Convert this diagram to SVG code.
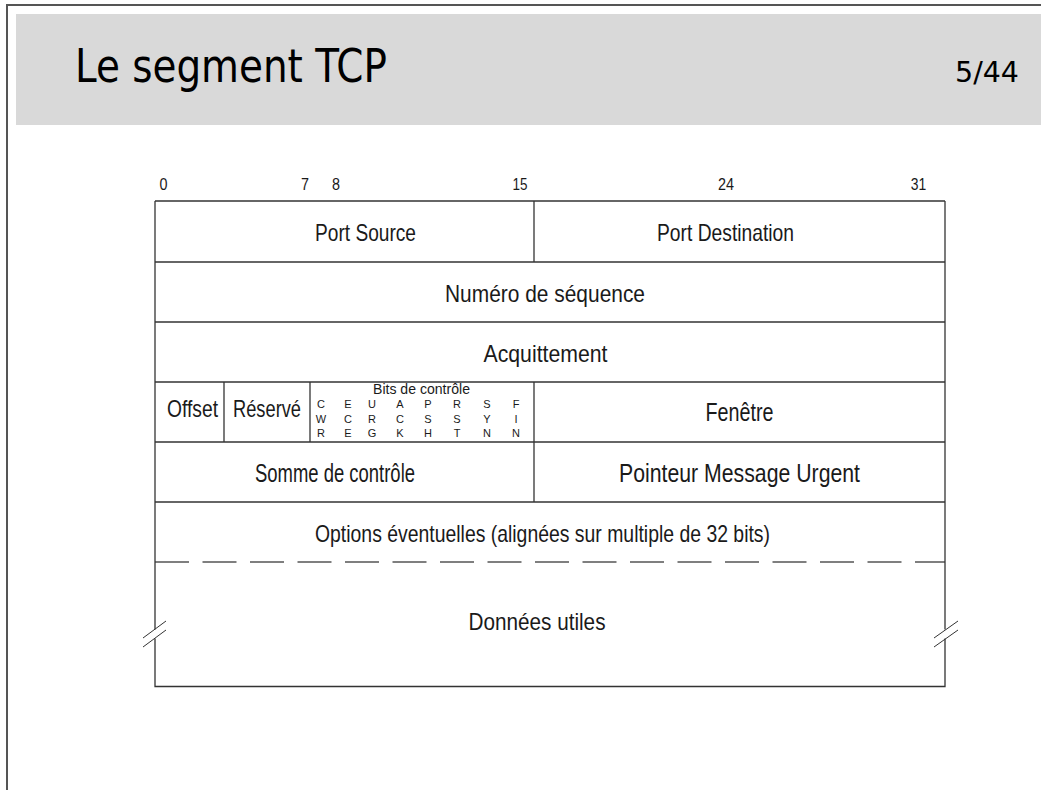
<svg xmlns="http://www.w3.org/2000/svg" width="1041" height="790" viewBox="0 0 1041 790">
<style>
.t{font-family:"Liberation Sans",Arial,sans-serif;fill:#1a1a1a;text-anchor:middle}
.f{font-size:23.4px}
.n{font-size:17px}
.b{font-size:11px}
.ln{stroke:#333;stroke-width:1.3;fill:none}
.brk{stroke:#333;stroke-width:1;fill:none}
</style>
<rect x="0" y="0" width="1041" height="790" fill="#fff"/>
<g id="frame">
<polyline points="7,790 7,5 1041,5" fill="none" stroke="#555" stroke-width="2"/>
<rect x="16" y="14" width="1025" height="111" fill="#d9d9d9"/>
<text x="75" y="82" font-family="DejaVu Sans Condensed,Liberation Sans,sans-serif" font-size="47" textLength="312" lengthAdjust="spacingAndGlyphs" fill="#000">Le segment TCP</text>
<text x="955" y="82" font-family="DejaVu Sans Condensed,Liberation Sans,sans-serif" font-size="29" textLength="64" lengthAdjust="spacingAndGlyphs" fill="#000">5/44</text>
</g>
<g id="bit-numbers" class="t n">
<text x="163.5" y="190" textLength="8" lengthAdjust="spacingAndGlyphs">0</text>
<text x="305" y="190" textLength="8" lengthAdjust="spacingAndGlyphs">7</text>
<text x="336" y="190" textLength="8" lengthAdjust="spacingAndGlyphs">8</text>
<text x="520" y="190" textLength="15" lengthAdjust="spacingAndGlyphs">15</text>
<text x="726" y="190" textLength="16" lengthAdjust="spacingAndGlyphs">24</text>
<text x="918.5" y="190" textLength="15.5" lengthAdjust="spacingAndGlyphs">31</text>
</g>
<g id="connectors" class="ln">
<line x1="155" y1="201" x2="945" y2="201"/>
<line x1="155" y1="262" x2="945" y2="262"/>
<line x1="155" y1="322" x2="945" y2="322"/>
<line x1="155" y1="382" x2="945" y2="382"/>
<line x1="155" y1="442" x2="945" y2="442"/>
<line x1="155" y1="502" x2="945" y2="502"/>
<line x1="534" y1="201" x2="534" y2="262"/>
<line x1="534" y1="382" x2="534" y2="502"/>
<line x1="224" y1="382" x2="224" y2="442"/>
<line x1="310" y1="382" x2="310" y2="442"/>
<line x1="155" y1="562" x2="945" y2="562" stroke-dasharray="34 13.5" stroke="#555"/>
<line x1="155" y1="201" x2="155" y2="629.5"/>
<line x1="945" y1="201" x2="945" y2="629.5"/>
<polyline points="155,638.5 155,686.5 945,686.5 945,638.5"/>
<line class="brk" x1="143" y1="638" x2="166" y2="621"/>
<line class="brk" x1="143" y1="647" x2="166" y2="630"/>
<line class="brk" x1="934" y1="638" x2="958" y2="621"/>
<line class="brk" x1="934" y1="647" x2="958" y2="630"/>
</g>
<g id="port-source" class="t f"><text x="365.5" y="241" textLength="101" lengthAdjust="spacingAndGlyphs">Port Source</text></g>
<g id="port-destination" class="t f"><text x="725.5" y="241" textLength="137" lengthAdjust="spacingAndGlyphs">Port Destination</text></g>
<g id="numero-sequence" class="t"><text x="545" y="301.5" font-size="24.5" textLength="200" lengthAdjust="spacingAndGlyphs">Numéro de séquence</text></g>
<g id="acquittement" class="t"><text x="545.5" y="361.5" font-size="24" textLength="124" lengthAdjust="spacingAndGlyphs">Acquittement</text></g>
<g id="offset" class="t f"><text x="192.5" y="417" textLength="51" lengthAdjust="spacingAndGlyphs">Offset</text></g>
<g id="reserve" class="t f"><text x="267" y="417" textLength="68" lengthAdjust="spacingAndGlyphs">Réservé</text></g>
<g id="bits-controle" class="t">
<text x="421.5" y="394" font-size="14" textLength="97" lengthAdjust="spacingAndGlyphs">Bits de contrôle</text>
<g class="b">
<text x="321" y="407.5">C</text><text x="321" y="422.5">W</text><text x="321" y="437">R</text>
<text x="348" y="407.5">E</text><text x="348" y="422.5">C</text><text x="348" y="437">E</text>
<text x="372" y="407.5">U</text><text x="372" y="422.5">R</text><text x="372" y="437">G</text>
<text x="400" y="407.5">A</text><text x="400" y="422.5">C</text><text x="400" y="437">K</text>
<text x="428" y="407.5">P</text><text x="428" y="422.5">S</text><text x="428" y="437">H</text>
<text x="457" y="407.5">R</text><text x="457" y="422.5">S</text><text x="457" y="437">T</text>
<text x="487" y="407.5">S</text><text x="487" y="422.5">Y</text><text x="487" y="437">N</text>
<text x="516" y="407.5">F</text><text x="516" y="422.5">I</text><text x="516" y="437">N</text>
</g>
</g>
<g id="fenetre" class="t"><text x="739.5" y="421" font-size="25" textLength="68" lengthAdjust="spacingAndGlyphs">Fenêtre</text></g>
<g id="somme-controle" class="t"><text x="335" y="481.5" font-size="25.5" textLength="160" lengthAdjust="spacingAndGlyphs">Somme de contrôle</text></g>
<g id="pointeur-urgent" class="t"><text x="739.5" y="481.5" font-size="25.5" textLength="241" lengthAdjust="spacingAndGlyphs">Pointeur Message Urgent</text></g>
<g id="options" class="t f"><text x="542.5" y="541.5" textLength="455" lengthAdjust="spacingAndGlyphs">Options éventuelles (alignées sur multiple de 32 bits)</text></g>
<g id="donnees" class="t"><text x="537" y="630" font-size="24.5" textLength="137" lengthAdjust="spacingAndGlyphs">Données utiles</text></g>
</svg>
